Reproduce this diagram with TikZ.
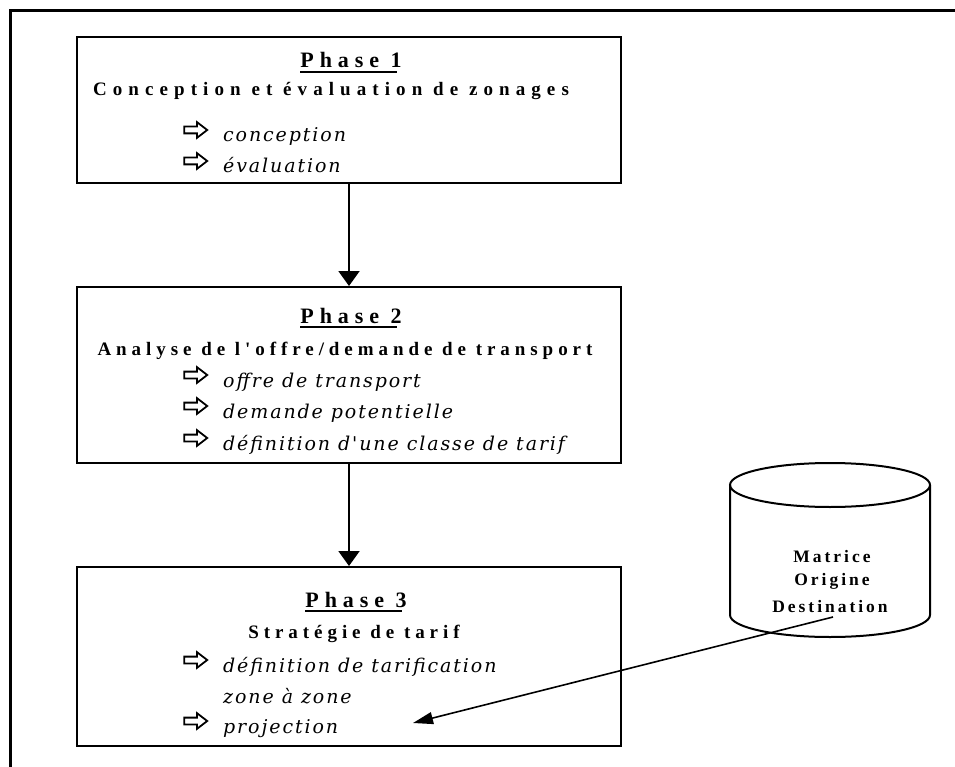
\documentclass[tikz,border=0pt]{standalone}
\usepackage{fontspec}
\setmainfont{Liberation Serif}
\newfontfamily\headfont[LetterSpace=32]{Liberation Serif}
\newfontfamily\headfontb[LetterSpace=26]{Liberation Serif}
\newfontfamily\titlefont[LetterSpace=27]{Liberation Serif}
\newfontfamily\dbfont[LetterSpace=17]{Liberation Serif}
\newfontfamily\itemfont[LetterSpace=10]{DejaVu Serif}
\usetikzlibrary{arrows.meta,shapes.arrows}
\begin{document}
\begin{tikzpicture}[x=1pt,y=-1pt,
  phasebox/.style={draw,line width=2pt,minimum width=544pt,inner sep=0pt},
  phasetitle/.style={font=\titlefont\bfseries\fontsize{22}{23}\selectfont,inner sep=0pt,anchor=base},
  subtitle/.style={font=\headfont\bfseries\fontsize{19}{20}\selectfont,inner sep=0pt,anchor=base},
  subtitleb/.style={font=\headfontb\bfseries\fontsize{19}{20}\selectfont,inner sep=0pt,anchor=base},
  itemtext/.style={font=\itemfont\itshape\fontsize{19}{21}\selectfont,inner sep=0pt,anchor=base west},
  bullet/.style={single arrow,draw,line width=1.8pt,minimum height=23pt,minimum width=15pt,
    inner xsep=0pt,inner ysep=2.5pt,single arrow head extend=4.5pt,single arrow tip angle=75,fill=white},
  dbtext/.style={font=\dbfont\bfseries\fontsize{17.5}{18}\selectfont,inner sep=0pt,anchor=base},
  flow/.style={line width=2pt,-{Triangle[length=15pt,width=21pt]}},
  link/.style={line width=1.6pt,-{Triangle[length=20pt,width=12pt]}},
  uline/.style={line width=1.8pt}]
\useasboundingbox (0,0) rectangle (955,767);
% outer frame
\draw[line width=3pt] (10,767) -- (10,11) -- (955,11);
% boxes
\node[phasebox,minimum height=146pt] (b1) at (349,110) {};
\node[phasebox,minimum height=176pt] (b2) at (349,375) {};
\node[phasebox,minimum height=179pt] (b3) at (349,656.5) {};
% phase 1
\node[phasetitle] (t1) at (351,68) {Phase 1};
\draw[uline] ([yshift=-4pt]t1.base west) -- ([yshift=-4pt,xshift=-5pt]t1.base east);
\node[subtitle] (s1) at (331,96) {Conception et évaluation de zonages};
\node[bullet] (m11) at (193.5,130) {};
\node[itemtext] (i11) at (223,142) {conception};
\node[bullet] (m12) at (193.5,161) {};
\node[itemtext] (i12) at (223,173) {évaluation};
% phase 2
\node[phasetitle] (t2) at (351,323) {Phase 2};
\draw[uline] ([yshift=-4pt]t2.base west) -- ([yshift=-4pt,xshift=-5pt]t2.base east);
\node[subtitleb] (s2) at (345,355) {Analyse de l'offre/demande de transport};
\node[bullet] (m21) at (193.5,375) {};
\node[itemtext] (i21) at (223,387) {offre de transport};
\node[bullet] (m22) at (193.5,406) {};
\node[itemtext] (i22) at (223,418) {demande potentielle};
\node[bullet] (m23) at (193.5,438) {};
\node[itemtext] (i23) at (223,450) {définition d'une classe de tarif};
% phase 3
\node[phasetitle] (t3) at (356,607) {Phase 3};
\draw[uline] ([yshift=-4pt]t3.base west) -- ([yshift=-4pt,xshift=-5pt]t3.base east);
\node[subtitleb] (s3) at (354,638) {Stratégie de tarif};
\node[bullet] (m31) at (193.5,660) {};
\node[itemtext] (i31) at (223,672) {définition de tarification};
\node[itemtext] (i32) at (223,703) {zone à zone};
\node[bullet] (m33) at (193.5,721) {};
\node[itemtext] (i33) at (223,733) {projection};
% flow arrows
\draw[flow] (b1.south) -- (b2.north);
\draw[flow] (b2.south) -- (b3.north);
% database cylinder
\draw[line width=2pt] (730,485) -- (730,615) arc[start angle=180,end angle=360,x radius=100pt,y radius=22pt] -- (930,485);
\draw[line width=2pt] (830,485) ellipse[x radius=100pt,y radius=22pt];
\node[dbtext] (d1) at (832,562) {Matrice};
\node[dbtext] (d2) at (832,585) {Origine};
\node[dbtext] (d3) at (830,612) {Destination};
\coordinate (dbout) at (833,617);
\coordinate (tip) at (413,723);
\draw[link] (dbout) -- (tip);
\end{tikzpicture}
\end{document}
